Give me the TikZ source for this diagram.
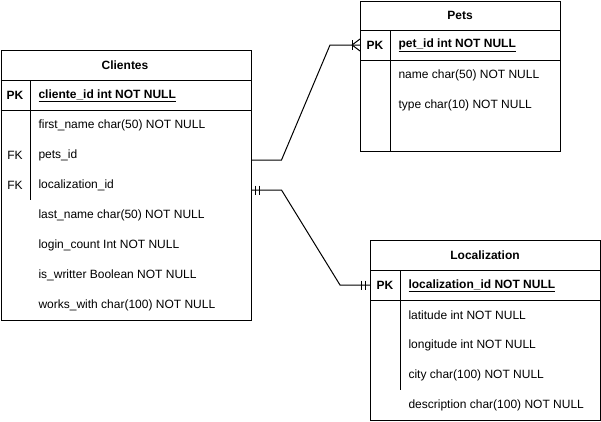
\documentclass[tikz,border=0pt]{standalone}
\usepackage{fontspec}
\setmainfont{Liberation Sans}
\usetikzlibrary{calc}
\newcommand{\erfont}{\fontsize{12pt}{14pt}\selectfont}

\begin{document}
\begin{tikzpicture}[
        x=1pt,y=-1pt
        ,line width=1pt
        ,tbl/.style={draw=black,anchor=north west,inner sep=0pt}
        ,caption/.style={font=\erfont\bfseries,yshift=-0.5pt}
        ,key/.style={font=\erfont\bfseries,yshift=-0.5pt}
        ,pkfield/.style={anchor=west,inner sep=0pt,font=\erfont\bfseries,yshift=-0.5pt}
        ,field/.style={anchor=west,inner sep=0pt,font=\erfont,yshift=-0.5pt}
        ,link/.style={draw=black,line width=1pt}
    ]
    \useasboundingbox (0,0) rectangle (601,421);
    % Clientes
    \node[tbl,minimum width=250pt,minimum height=270pt] (cli) at (0.5,50) {};
    \draw (cli.north west) ++(0,30) -- ++(250,0);
    \draw (cli.north west) ++(0,60) -- ++(250,0);
    \draw (cli.north west) ++(30,30) -- ++(0,120);
    \node[caption] (cliT) at (125,65) {Clientes};
    \node[key] (cliPK) at (15,95) {PK};
    \node[pkfield] (cliId) at (38,95) {\underline{cliente\_id int NOT NULL}};
    \node[field] (cliF1) at (38,125) {first\_name char(50) NOT NULL};
    \node[key,font=\erfont] (cliFK1) at (15,155) {FK};
    \node[field] (cliF2) at (38,155) {pets\_id};
    \node[key,font=\erfont] (cliFK2) at (15,185) {FK};
    \node[field] (cliF3) at (38,185) {localization\_id};
    \node[field] (cliF4) at (38,215) {last\_name char(50) NOT NULL};
    \node[field] (cliF5) at (38,245) {login\_count Int NOT NULL};
    \node[field] (cliF6) at (38,275) {is\_writter Boolean NOT NULL};
    \node[field] (cliF7) at (38,305) {works\_with char(100) NOT NULL};
    % Pets
    \node[tbl,minimum width=200pt,minimum height=150pt] (pets) at (360,0.5) {};
    \draw (pets.north west) ++(0,30) -- ++(200,0);
    \draw (pets.north west) ++(0,60) -- ++(200,0);
    \draw (pets.north west) ++(30,30) -- ++(0,120);
    \node[caption] (petsT) at (460,15) {Pets};
    \node[key] (petsPK) at (375,45) {PK};
    \node[pkfield] (petsId) at (398,45) {\underline{pet\_id int NOT NULL}};
    \node[field] (petsF1) at (398,75) {name char(50) NOT NULL};
    \node[field] (petsF2) at (398,105) {type char(10) NOT NULL};
    % Localization
    \node[tbl,minimum width=230pt,minimum height=180pt] (loc) at (370,240) {};
    \draw (loc.north west) ++(0,30) -- ++(230,0);
    \draw (loc.north west) ++(0,60) -- ++(230,0);
    \draw (loc.north west) ++(30,30) -- ++(0,120);
    \node[caption] (locT) at (485,255) {Localization};
    \node[key] (locPK) at (385,285) {PK};
    \node[pkfield] (locId) at (408,285) {\underline{localization\_id NOT NULL}};
    \node[field] (locF1) at (408,315) {latitude int NOT NULL};
    \node[field] (locF2) at (408,345) {longitude int NOT NULL};
    \node[field] (locF3) at (408,375) {city char(100) NOT NULL};
    \node[field] (locF4) at (408,405) {description char(100) NOT NULL};
    % Концы связей
    \coordinate (A) at ($ (cli.north east) + (0,110) $);
    \coordinate (B) at ($ (pets.north west) + (0,44.5) $);
    \coordinate (C) at ($ (cli.north east) + (0,140) $);
    \coordinate (D) at ($ (loc.north west) + (0,45) $);
    % Связи
    \draw[link] (A) -- ++(30,0) -- ($ (B) + (-30,0) $) -- (B);
    \draw[link] ($ (B) + (-8,-5) $) -- ++(0,10);
    \draw[link] ($ (B) + (-8,0) $) -- ($ (B) + (0,-6) $);
    \draw[link] ($ (B) + (-8,0) $) -- ($ (B) + (0,6) $);
    \draw[link] (C) -- ++(30,0) -- ($ (D) + (-30,0) $) -- (D);
    \draw[link] ($ (C) + (4,-4.5) $) -- ++(0,9);
    \draw[link] ($ (C) + (7.5,-4.5) $) -- ++(0,9);
    \draw[link] ($ (D) + (-8.5,-4.5) $) -- ++(0,9);
    \draw[link] ($ (D) + (-5,-4.5) $) -- ++(0,9);
\end{tikzpicture}
\end{document}
